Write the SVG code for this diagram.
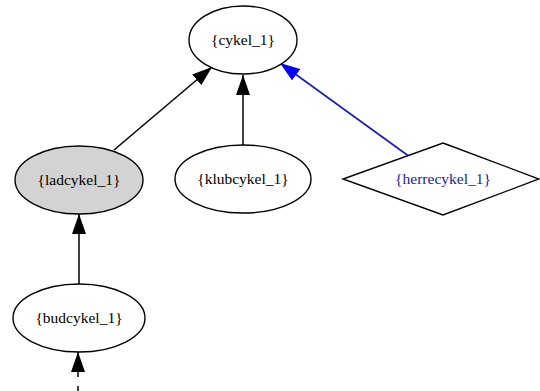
<svg xmlns="http://www.w3.org/2000/svg" width="540" height="391" viewBox="0 0 540 391">
<defs>
<style>
.node ellipse, .node polygon { stroke: #000; stroke-width: 1.4; fill: #fff; }
.node text { font-family: "Liberation Serif", "Times New Roman", serif; font-size: 15.5px; text-anchor: middle; fill: #000; }
.edge { stroke: #000; stroke-width: 1.5; fill: none; }
</style>
<marker id="ah" viewBox="0 0 20 14" refX="20" refY="7" markerWidth="20" markerHeight="14" markerUnits="userSpaceOnUse" orient="auto">
<path d="M0,0 L20,7 L0,14 z" fill="#000"/>
</marker>
<marker id="ahb" viewBox="0 0 20 14" refX="20" refY="7" markerWidth="20" markerHeight="14" markerUnits="userSpaceOnUse" orient="auto">
<path d="M0,0 L20,7 L0,14 z" fill="#0000ff"/>
</marker>
</defs>
<rect width="540" height="391" fill="#fff"/>
<g id="edges">
<line class="edge" x1="114" y1="150" x2="212" y2="67" marker-end="url(#ah)"/>
<line class="edge" x1="243" y1="145" x2="243" y2="75" marker-end="url(#ah)"/>
<line class="edge" x1="410" y1="157" x2="280" y2="63" style="stroke:#1a1ab4;stroke-width:1.6" marker-end="url(#ahb)"/>
<line class="edge" x1="79" y1="284" x2="79" y2="214" marker-end="url(#ah)"/>
<line class="edge" x1="78" y1="377" x2="78" y2="352" marker-end="url(#ah)"/>
<line class="edge" x1="78" y1="386" x2="78" y2="391"/>
</g>
<g id="cykel_1" class="node">
<ellipse cx="243" cy="40" rx="54" ry="34"/>
<text x="243" y="45">{cykel_1}</text>
</g>
<g id="ladcykel_1" class="node">
<ellipse cx="79" cy="180" rx="64" ry="34" style="fill:#d3d3d3"/>
<text x="79" y="185">{ladcykel_1}</text>
</g>
<g id="klubcykel_1" class="node">
<ellipse cx="243" cy="179" rx="68" ry="34"/>
<text x="243" y="184">{klubcykel_1}</text>
</g>
<g id="herrecykel_1" class="node">
<polygon points="443,143 539,179 443,215 343,179"/>
<text x="443" y="184" style="fill:#1a1a9c">{herrecykel_1}</text>
</g>
<g id="budcykel_1" class="node">
<ellipse cx="79" cy="318" rx="66" ry="34"/>
<text x="79" y="323">{budcykel_1}</text>
</g>
</svg>
